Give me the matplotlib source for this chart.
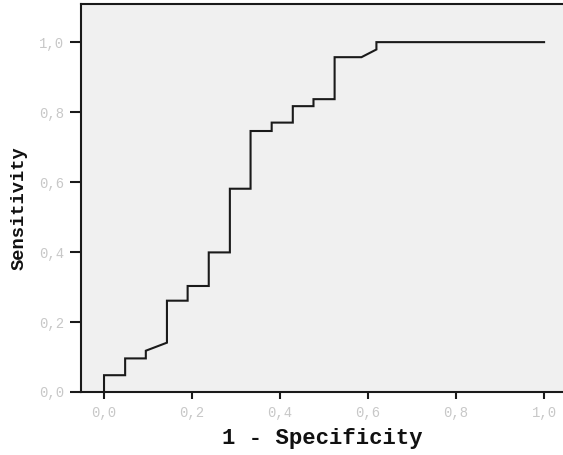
import matplotlib
matplotlib.use("Agg")
import matplotlib.pyplot as plt

# ROC curve points (1 - specificity, sensitivity)
fpr = [0.0, 0.0, 0.048, 0.048, 0.095, 0.095, 0.143, 0.143, 0.190, 0.190,
       0.238, 0.238, 0.286, 0.286, 0.333, 0.333, 0.381, 0.381, 0.429, 0.429,
       0.476, 0.476, 0.524, 0.524, 0.585, 0.619, 0.619, 1.0]
tpr = [0.0, 0.048, 0.048, 0.096, 0.096, 0.118, 0.141, 0.261, 0.261, 0.303,
       0.303, 0.399, 0.399, 0.581, 0.581, 0.746, 0.746, 0.770, 0.770, 0.817,
       0.817, 0.837, 0.837, 0.957, 0.957, 0.979, 1.0, 1.0]

tick_values = [0.0, 0.2, 0.4, 0.6, 0.8, 1.0]
tick_labels = ["0,0", "0,2", "0,4", "0,6", "0,8", "1,0"]

W, H = 563, 455
fig = plt.figure(figsize=(W / 100, H / 100), dpi=100, facecolor="white")
ax = fig.add_axes([81 / W, (H - 392) / H, (W - 81) / W, (392 - 4) / H])
ax.set_facecolor("#f0f0f0")

ax.plot(fpr, tpr, color="#1a1a1a", lw=1.5, solid_joinstyle="miter")

ax.set_xlim(-0.0523, 1.043)
ax.set_ylim(0.0, 1.109)

for side in ["left", "top", "bottom"]:
    ax.spines[side].set_linewidth(1.5)
    ax.spines[side].set_color("#1a1a1a")
ax.spines["right"].set_visible(False)

ax.set_xticks(tick_values)
ax.set_xticklabels(tick_labels)
ax.set_yticks(tick_values)
ax.set_yticklabels(tick_labels)
ax.tick_params(axis="x", direction="out", length=5.2, width=1.5, color="#1a1a1a",
               labelsize=10, labelcolor="#c8c8c8", pad=5)
ax.tick_params(axis="y", direction="out", length=8.0, width=1.5, color="#1a1a1a",
               labelsize=10, labelcolor="#c8c8c8", pad=4)
for lab in ax.get_xticklabels() + ax.get_yticklabels():
    lab.set_family("Liberation Mono")

ax.set_xlabel("1 - Specificity", fontfamily="Liberation Mono", fontweight="bold",
              fontsize=16, color="#111111")
ax.set_ylabel("Sensitivity", fontfamily="Liberation Mono", fontweight="bold",
              fontsize=13.5, color="#111111")
ax.xaxis.set_label_coords(0.5, -0.093)
ax.yaxis.set_label_coords(-0.11, 0.474)

fig.savefig("out.png", dpi=100, facecolor="white")
